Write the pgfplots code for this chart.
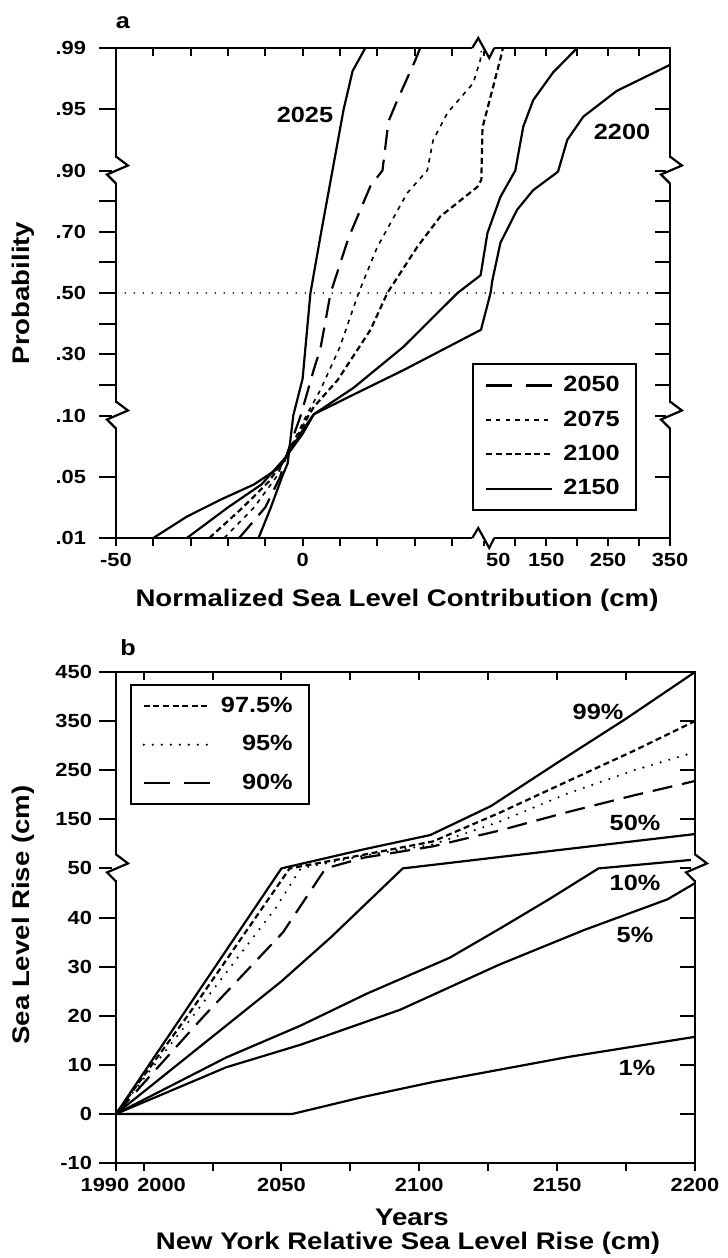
\documentclass[border=0pt]{standalone}
\usepackage{fontspec}
\setmainfont{Liberation Sans}[FakeStretch=1.15]
\usepackage{pgfplots}
\pgfplotsset{compat=1.18}

% axis-break marks, drawn last so they sit over the axis lines
\newcommand{\vbrk}[1]{%
  \fill[white] ([xshift=-2pt,yshift=-6pt]#1) rectangle ([xshift=2pt,yshift=6.5pt]#1);
  \draw[line width=1.1pt] ([yshift=7pt]#1) -- ([xshift=6pt,yshift=2.5pt]#1)
    -- ([xshift=-4.5pt,yshift=-2pt]#1) -- ([yshift=-6.5pt]#1);}
\newcommand{\hbrk}[1]{%
  \fill[white] ([xshift=-4pt,yshift=-1.5pt]#1) rectangle ([xshift=7pt,yshift=1.5pt]#1);
  \draw[line width=1.1pt] ([xshift=-4pt]#1) -- ([xshift=-1pt,yshift=5pt]#1)
    -- ([xshift=4.5pt,yshift=-5pt]#1) -- ([xshift=7pt]#1);}

\pgfplotsset{
  frame/.style={scale only axis, axis line style={line width=1.1pt},
    tick style={line width=1pt, black},
    tick label style={font=\bfseries\fontsize{9.5}{11}\selectfont},
    xtick=\empty, extra x tick style={major tick length=4pt}},
  main/.style={frame, major tick length=8.5pt, tick align=outside,
    xtick pos=left, ytick pos=left,
    legend image code/.code={\draw[##1] (0pt,0pt) -- (33pt,0pt);},
    legend style={draw=black, line width=1pt, anchor=center,
      font=\bfseries\fontsize{11}{13}\selectfont,
      row sep=4pt, inner xsep=6pt, inner ysep=4pt,
      /tikz/every odd column/.append style={column sep=3pt}}},
  over/.style={frame, major tick length=7.5pt, tick align=inside,
    xtick pos=right, ytick pos=right, yticklabels={}, extra x tick labels={}},
  full/.style={black, line width=1.1pt, line join=round},
  longdash/.style={black, line width=1.1pt, dash pattern=on 10pt off 5pt},
  legdash/.style={black, line width=1.1pt, dash pattern=on 13pt off 7pt},
  finedash/.style={black, line width=0.8pt, dash pattern=on 2.2pt off 2.6pt},
  middash/.style={black, line width=1.1pt, dash pattern=on 3pt off 1.8pt},
  dotline/.style={black, line width=1.2pt, line cap=round, dash pattern=on 0pt off 4.5pt},
}

\begin{document}
\begin{tikzpicture}
\useasboundingbox (0,0) rectangle (364pt,-629pt);

% ---------------- panel a ----------------
\begin{axis}[main, at={(58pt,-269pt)}, anchor=south west,
  width=277pt, height=245pt,
  xmin=-50, xmax=98.44, ymin=0, ymax=8,
  x filter/.expression={x>48.5 ? 48.7+(x-50)*0.1658 : x},
  y filter/.expression={y<=0.05 ? (y-0.01)/0.04 : (y<=0.1 ? 1+(y-0.05)/0.05 : (y<=0.9 ? 2+(y-0.1)/0.2 : (y<=0.95 ? 6+(y-0.9)/0.05 : 7+(y-0.95)/0.04)))},
  extra x ticks={-50,-40,-30,-20,-10,0,10,20,30,40,48.7,56.99,65.28,73.57,81.86,90.15,98.44},
  extra x tick labels={-50,{},{},{},{},0,{},{},{},{},\hspace*{14pt}50,{},150,{},250,{},350},
  ytick={0,1,2,2.5,3,3.5,4,4.5,5,5.5,6,7,8},
  yticklabels={.01,.05,.10,{},.30,{},.50,{},.70,{},.90,.95,.99},
  yticklabel style={xshift=-3pt},
  legend style={at={(0.7915,0.206)}},
]
\addplot[dotline, line width=0.9pt, forget plot] coordinates {(-47.5,0.5) (350,0.5)};
% 2025
\addplot[full, forget plot] coordinates {(-11.8,0.01) (-8.5,0.03) (-5.5,0.05) (-4,0.061) (-2.5,0.10) (0,0.22) (2.1,0.50) (5,0.70) (8,0.90) (11,0.95) (13.4,0.975) (16.8,0.99)};
% 2050
\addplot[longdash, forget plot] coordinates {(-17,0.01) (-10,0.03) (-6,0.05) (-4.5,0.066) (-0.5,0.10) (3,0.25) (4.8,0.32) (7.5,0.50) (12.3,0.68) (18.2,0.85) (21.4,0.90) (23,0.94) (25.4,0.956) (30.2,0.982) (31.5,0.99)};
\addlegendimage{legdash}
\addlegendentry{2050}
% 2075
\addplot[finedash] coordinates {(-21,0.01) (-13,0.03) (-7,0.05) (-4.5,0.066) (1,0.10) (4.8,0.184) (10,0.324) (15,0.50) (20,0.65) (28,0.826) (33.4,0.90) (35,0.925) (38.8,0.947) (45.7,0.967) (47.6,0.982) (48,0.99)};
\addlegendentry{2075}
% 2100
\addplot[middash] coordinates {(-25,0.01) (-16,0.03) (-9,0.047) (-4.5,0.066) (1.6,0.10) (3,0.128) (9.4,0.216) (18.2,0.38) (22.7,0.50) (30.7,0.65) (36.9,0.75) (46.8,0.846) (47.9,0.87) (48.2,0.935) (76,0.983) (80,0.99)};
\addlegendentry{2100}
% 2150
\addplot[full] coordinates {(-31,0.01) (-20,0.03) (-11,0.045) (-4.5,0.066) (0,0.085) (3,0.104) (13.6,0.19) (27,0.324) (41.5,0.50) (47.7,0.558) (55,0.696) (76,0.814) (100,0.90) (113,0.936) (129,0.956) (161,0.974) (200,0.99)};
\addlegendentry{2150}
% 2200
\addplot[full, forget plot] coordinates {(-40,0.01) (-31,0.024) (-22,0.035) (-13,0.045) (-6,0.058) (-4.5,0.066) (0,0.088) (3,0.104) (13.6,0.168) (27,0.248) (47.8,0.38) (60,0.50) (63,0.542) (76,0.664) (103,0.772) (129,0.836) (169,0.896) (184,0.925) (210,0.944) (264,0.962) (350,0.979)};
\coordinate (aL1) at (axis cs:-50,2);
\coordinate (aL2) at (axis cs:-50,6);
\coordinate (aR1) at (axis cs:98.44,2);
\coordinate (aR2) at (axis cs:98.44,6);
\coordinate (aB) at (axis cs:47.6,0);
\coordinate (aT) at (axis cs:47.6,8);
\end{axis}
\begin{axis}[over, at={(58pt,-269pt)}, anchor=south west,
  width=277pt, height=245pt,
  xmin=-50, xmax=98.44, ymin=0, ymax=8,
  extra x ticks={-50,-40,-30,-20,-10,0,10,20,30,40,48.7,56.99,65.28,73.57,81.86,90.15,98.44},
  ytick={0,1,2,2.5,3,3.5,4,4.5,5,5.5,6,7,8},
]
\end{axis}

% ---------------- panel b ----------------
\begin{axis}[main, at={(58pt,-581.5pt)}, anchor=south west,
  width=289.5pt, height=245.5pt,
  xmin=1990, xmax=2200, ymin=-10, ymax=90,
  y filter/.expression={y>50 ? 50+(y-50)/10 : y},
  extra x ticks={1990,2000,2025,2050,2075,2100,2125,2150,2175,2200},
  extra x tick labels={1990\hspace*{11pt},\hspace*{18pt}2000,{},2050,{},2100,{},2150,{},2200},
  ytick={-10,0,10,20,30,40,50,60,70,80,90},
  yticklabels={-10,0,10,20,30,40,50,150,250,350,450},
  legend cell align=right,
  legend style={at={(0.179,0.852)}, row sep=6pt},
]
% 99%
\addplot[full, forget plot] coordinates {(1990,0) (2050,50) (2080,89) (2104,118) (2126,177) (2150,265) (2175,355) (2200,450)};
% 97.5%
\addplot[middash] coordinates {(1990,0) (2016,20) (2053,50) (2080,78) (2105,105) (2129,163) (2154,228) (2178,290) (2200,350)};
\addlegendentry{97.5\%}
% 95%
\addplot[dotline] coordinates {(1990,0) (2018,20) (2048,42) (2057,50) (2080,76) (2105,99) (2129,145) (2154,203) (2178,250) (2200,287)};
\addlegendentry{95\%}
% 90%
\addplot[longdash, forget plot] coordinates {(1990,0) (2022,20) (2050.6,37) (2066,50) (2080,72) (2105,95) (2129,127) (2154,165) (2178,199) (2200,228)};
\addlegendimage{legdash}
\addlegendentry{90\%}
% 50%
\addplot[full, forget plot] coordinates {(1990,0) (2020,13.5) (2050,27) (2068,36) (2094,50) (2200,120)};
% 10%
\addplot[full, forget plot] coordinates {(1990,0) (2030,11.5) (2057,18) (2081,24.5) (2111,31.8) (2130,38) (2147,43.7) (2165,50) (2200,68)};
% 5%
\addplot[full, forget plot] coordinates {(1990,0) (2030,9.5) (2057,14.1) (2093,21.2) (2129,30.4) (2160,37.5) (2190,43.7) (2200,47)};
% 1%
\addplot[full, forget plot] coordinates {(1990,0) (2054,0) (2080,3.5) (2105,6.5) (2154,11.6) (2200,15.7)};
\coordinate (bL) at (axis cs:1990,50);
\coordinate (bR) at (axis cs:2200,50);
\end{axis}
\begin{axis}[over, at={(58pt,-581.5pt)}, anchor=south west,
  width=289.5pt, height=245.5pt,
  xmin=1990, xmax=2200, ymin=-10, ymax=90,
  extra x ticks={1990,2000,2025,2050,2075,2100,2125,2150,2175,2200},
  ytick={-10,0,10,20,30,40,50,60,70,80,90},
]
\end{axis}

% axis breaks
\vbrk{aL1}\vbrk{aL2}\vbrk{aR1}\vbrk{aR2}\vbrk{bL}\vbrk{bR}
\hbrk{aB}\hbrk{aT}

% labels
\begin{scope}[font=\bfseries\fontsize{12}{14}\selectfont]
\node at (198.5pt,-300pt) {Normalized Sea Level Contribution (cm)};
\node[rotate=90] at (11.5pt,-146.5pt) {Probability};
\node[rotate=90] at (11.5pt,-457.5pt) {Sea Level Rise (cm)};
\node at (206pt,-608.5pt) {Years};
\node at (204pt,-621.5pt) {New York Relative Sea Level Rise (cm)};
\end{scope}
\begin{scope}[font=\bfseries\fontsize{11}{13}\selectfont]
\node at (61.5pt,-11.5pt) {a};
\node at (64pt,-324pt) {b};
\node at (152.5pt,-57.5pt) {2025};
\node at (311pt,-66pt) {2200};
\node at (299pt,-356pt) {99\%};
\node at (317.5pt,-411.5pt) {50\%};
\node at (317.5pt,-441.5pt) {10\%};
\node at (317.5pt,-467.5pt) {5\%};
\node at (318.5pt,-534pt) {1\%};
\end{scope}
\end{tikzpicture}
\end{document}
